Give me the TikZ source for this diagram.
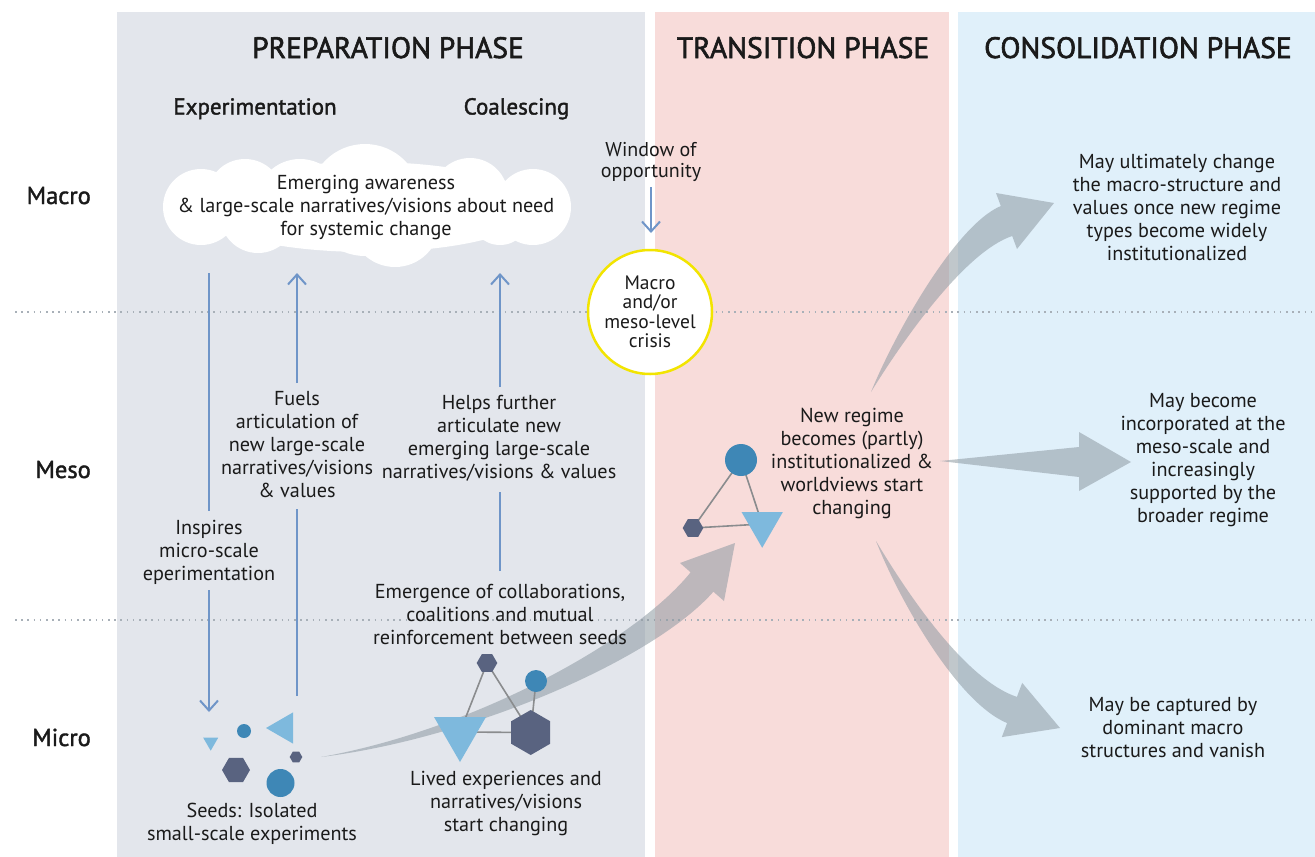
\documentclass[tikz,border=0pt]{standalone}
\usepackage{fontspec}
\setmainfont{PT Sans}
\newfontfamily\medfont{PT Sans}[FakeBold=1.6]
\newfontfamily\titfont{PT Sans}[FakeBold=2]
\usetikzlibrary{shapes.geometric,arrows.meta}
\definecolor{prepbg}{HTML}{E3E6EC}
\definecolor{transbg}{HTML}{F8DCDA}
\definecolor{consbg}{HTML}{E0F0FA}
\definecolor{txt}{HTML}{1A1A1A}
\definecolor{barrow}{HTML}{6F95C8}
\definecolor{garrow}{HTML}{8D99A2}
\definecolor{dotc}{HTML}{A8B0B8}
\definecolor{hexc}{HTML}{596380}
\definecolor{circc}{HTML}{3E87B6}
\definecolor{tric}{HTML}{7EB9DD}
\definecolor{linkc}{HTML}{8A8C8E}
\definecolor{crisisc}{HTML}{F2E400}
\pgfdeclarelayer{bg}\pgfdeclarelayer{edges}
\pgfsetlayers{bg,edges,main}
\begin{document}
\begin{tikzpicture}[x=1pt,y=-1pt,
  title/.style={font=\titfont\fontsize{29.5}{32}\selectfont, text=txt, inner sep=0, anchor=base},
  subt/.style={font=\medfont\fontsize{23}{26}\selectfont, text=txt, inner sep=0, anchor=base},
  lvl/.style={font=\medfont\fontsize{24.5}{28}\selectfont, text=txt, inner sep=0, anchor=base east},
  body/.style={font=\fontsize{20.2}{23}\selectfont, align=center, text=txt, inner sep=0},
  smalltxt/.style={font=\fontsize{20}{20.5}\selectfont, align=center, text=txt, inner sep=0},
  bline/.style={draw=barrow, line width=2pt},
  barr/.style={bline, -{Straight Barb[length=10pt,width=18pt]}},
  garr/.style={fill=garrow, fill opacity=0.55, draw=none},
  hexs/.style={regular polygon, regular polygon sides=6, fill=hexc, inner sep=0, draw=none},
  circs/.style={circle, fill=circc, inner sep=0, draw=none},
  tris/.style={regular polygon, regular polygon sides=3, fill=tric, inner sep=0, draw=none},
  link/.style={draw=linkc, line width=1.6pt},
  dotline/.style={draw=dotc, line width=2pt, dash pattern=on 1.6pt off 4.6pt},
  crisisnode/.style={circle, draw=crisisc, fill=white, line width=2.5pt, minimum size=124pt, inner sep=0, align=center, font=\fontsize{19.5}{19.5}\selectfont, text=txt}
]
\useasboundingbox (0,0) rectangle (1315,857);
\begin{pgfonlayer}{bg}
\fill[white] (0,0) rectangle (1315,857);
\fill[prepbg] (117,12) rectangle (645,857);
\fill[transbg] (655,12) rectangle (949,857);
\fill[consbg] (958,12) rectangle (1315,857);
\draw[dotline] (15,312) -- (1315,312);
\draw[dotline] (15,620) -- (1315,620);
\end{pgfonlayer}

% titles
\node[title] (tprep) at (388,58) {PREPARATION PHASE};
\node[title] (ttrans) at (803,58) {TRANSITION PHASE};
\node[title] (tcons) at (1138,58) {CONSOLIDATION PHASE};
\node[subt] (sexp) at (255,114.5) {Experimentation};
\node[subt] (scoal) at (516.5,114.5) {Coalescing};
\node[lvl] (lmacro) at (91,204) {Macro};
\node[lvl] (lmeso) at (91,478) {Meso};
\node[lvl] (lmicro) at (91,746) {Micro};

% cloud
\fill[white] (367,207) ellipse [x radius=170pt, y radius=45pt];
\fill[white] (201,207) circle [radius=38pt];
\fill[white] (245,197) circle [radius=38pt];
\fill[white] (300,203) circle [radius=44pt];
\fill[white] (365,200) circle [radius=56pt];
\fill[white] (470,196) circle [radius=38pt];
\fill[white] (533,207) circle [radius=38pt];
\fill[white] (395,222) circle [radius=45pt];
\fill[white] (258,215) circle [radius=38pt];
\fill[white] (500,215) circle [radius=30pt];
\node[body] (cloudtxt) at (366,207) {Emerging awareness\\ \& large-scale narratives/visions about need\\ for systemic change};

% labels
\node[body] (inspires) at (209,552) {Inspires\\ micro-scale\\ eperimentation};
\node[body] (fuels) at (297,445) {Fuels\\ articulation of\\ new large-scale\\ narratives/visions\\ \& values};
\node[body] (helps) at (499,438) {Helps further\\ articulate new\\ emerging large-scale\\ narratives/visions \& values};
\node[body] (emerge) at (500,614) {Emergence of collaborations,\\ coalitions and mutual\\ reinforcement between seeds};
\node[body] (lived) at (506,803) {Lived experiences and\\ narratives/visions\\ start changing};
\node[body] (seeds) at (252,823.5) {Seeds: Isolated\\ small-scale experiments};
\node[smalltxt] (window) at (651,162) {Window of\\ opportunity};
\node[crisisnode] (crisis) at (650,312) {Macro\\ and/or\\ meso-level\\ crisis};
\node[body] (newreg) at (852,463) {New regime\\ becomes (partly)\\ institutionalized \&\\ worldviews start\\ changing};
\node[body] (ult) at (1177,207) {May ultimately change\\ the macro-structure and\\ values once new regime\\ types become widely\\ institutionalized};
\node[body] (incorp) at (1203,460.5) {May become\\ incorporated at the\\ meso-scale and\\ increasingly\\ supported by the\\ broader regime};
\node[body] (capt) at (1173,728) {May be captured by\\ dominant macro\\ structures and vanish};

% blue arrows
\coordinate (iu) at (209,273); \coordinate (id1) at (209,511);
\coordinate (id2) at (209,590); \coordinate (is) at (209,712);
\coordinate (fb) at (297,696); \coordinate (fl1) at (297,509);
\coordinate (fl2) at (297,383); \coordinate (ft) at (297,273);
\coordinate (hb) at (500,571); \coordinate (hl1) at (500,492);
\coordinate (hl2) at (500,387); \coordinate (ht) at (500,273);
\coordinate (wt) at (651,187); \coordinate (wb) at (651,233);
\draw[bline] (iu) -- (id1);
\draw[barr] (id2) -- (is);
\draw[bline] (fb) -- (fl1);
\draw[barr] (fl2) -- (ft);
\draw[bline] (hb) -- (hl1);
\draw[barr] (hl2) -- (ht);
\draw[barr] (wt) -- (wb);

% seeds
\node[tris, minimum size=17.4pt, rotate=180] (s1) at (210.7,742) {};
\node[circs, minimum size=14pt] (s2) at (244,731) {};
\node[tris, minimum size=36pt, rotate=90] (s3) at (284,728) {};
\node[hexs, minimum size=12.6pt] (s4) at (296,757) {};
\node[hexs, minimum size=28pt] (s5) at (236,770) {};
\node[circs, minimum size=28pt] (s6) at (280.5,783) {};

% coalescing network
\node[hexs, minimum size=20.6pt] (chex) at (487,663) {};
\node[circs, minimum size=22pt] (ccirc) at (536,681) {};
\node[tris, minimum size=60pt, rotate=180] (ctri) at (460,732) {};
\node[hexs, minimum size=45pt, rotate=30] (cbig) at (530.7,732.5) {};

% transition network
\node[circs, minimum size=32pt] (tcirc) at (741,460) {};
\node[hexs, minimum size=20.6pt] (thex) at (693,528) {};
\node[tris, minimum size=47.6pt, rotate=180] (ttri) at (762.2,524) {};

\begin{pgfonlayer}{edges}
% gray arrows
\fill[garr] (321,757) .. controls (470.4,730.5) and (634.1,642.6) .. (690.6,572.3) -- (680,563) -- (735,543) -- (724,601) -- (713.4,591.7) .. controls (653.9,659.4) and (471.6,738.5) .. (321,757) -- cycle;
\fill[garr] (871,392) .. controls (893.5,336.4) and (954.7,225.6) .. (1000.8,206) -- (996,193) -- (1054,203) -- (1017,249) -- (1012.2,236) .. controls (964.7,251.8) and (902.5,340.9) .. (871,392) -- cycle;
\fill[garr] (940,461) -- (1079,447) -- (1079,432) -- (1131,462) -- (1079,491) -- (1079,477) -- cycle;
\fill[garr] (876,541) .. controls (906.9,592.8) and (964.7,679.5) .. (1016.9,696.9) -- (1022.2,682.9) -- (1060,728) -- (1001.8,737.1) -- (1007.1,723.1) .. controls (956.3,701.9) and (897.9,597.2) .. (876,541) -- cycle;
% links
\draw[link] (chex.center) -- (ctri.center);
\draw[link] (chex.center) -- (cbig.center);
\draw[link] (ctri.center) -- (cbig.center);
\draw[link] (ccirc.center) -- (cbig.center);
\draw[link] (tcirc.center) -- (thex.center);
\draw[link] (tcirc.center) -- (ttri.center);
\draw[link] (thex.center) -- (ttri.center);
\end{pgfonlayer}
\end{tikzpicture}
\end{document}
